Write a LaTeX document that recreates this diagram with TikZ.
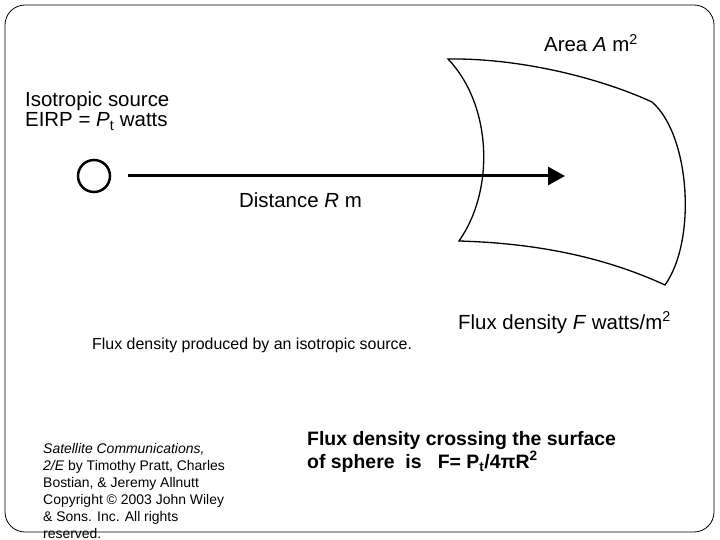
\documentclass[tikz,border=0pt]{standalone}
\usepackage{fontspec}
\setmainfont{Liberation Sans}
\usetikzlibrary{arrows.meta}

\begin{document}
\begin{tikzpicture}[
  x=1bp, y=-1bp,
  >={Triangle[length=17bp,width=18bp]},
  lbl/.style={inner sep=0pt, anchor=base west, align=left, font=\fontsize{20.5}{21}\selectfont},
  caption/.style={inner sep=0pt, anchor=base west, font=\fontsize{16}{18}\selectfont},
  remark/.style={inner sep=0pt, anchor=base west, align=left, font=\bfseries\fontsize{19.5}{21}\selectfont},
  credit/.style={inner sep=0pt, anchor=base west, align=left, font=\fontsize{14}{17}\selectfont}
]
\useasboundingbox (0,0) rectangle (720,540);

% Slide frame
\draw[line width=0.8bp, rounded corners=20bp] (5,5) rectangle (714,532);

% Source and ray towards the surface
\node[draw, circle, line width=2.5bp, minimum size=32bp, inner sep=0pt] (src) at (94,176) {};
\coordinate (tip) at (565,176);
\draw[->, line width=3bp, shorten <=17bp] (src) -- (tip);

% Patch of the sphere
\draw[line width=1.3bp] (448,59) .. controls (520,58) and (600,78) .. (652,102)
  .. controls (690,135) and (697,240) .. (665,285)
  .. controls (600,255) and (530,243) .. (459,241)
  .. controls (495,190) and (492,105) .. cycle;

% Labels of the figure (base = last line)
\node[lbl] (area)   at (544,52)  {Area \textit{A} m\textsuperscript{2}};
\node[lbl] (srclbl) at (25,127)  {Isotropic source\\EIRP = \textit{P}\textsubscript{t} watts};
\node[lbl] (dist)   at (239,208) {Distance \textit{R} m};
\node[lbl] (flux)   at (458,329) {Flux density \textit{F} watts/m\textsuperscript{2}};
\node[caption] (cap) at (92,349) {Flux density produced by an isotropic source.};

% Slide text
\node[remark] (formula) at (307,468) {Flux density crossing the surface\\
  of sphere\ \ is\ \ \ F= P\textsubscript{t}/4πR\textsuperscript{2}};
\node[credit] (cite) at (43,538) {\textit{Satellite Communications,}\\
  \textit{2/E} by Timothy Pratt, Charles\\Bostian, \& Jeremy Allnutt\\
  Copyright © 2003 John Wiley\\\& Sons. Inc. All rights\\reserved.};

\end{tikzpicture}
\end{document}
